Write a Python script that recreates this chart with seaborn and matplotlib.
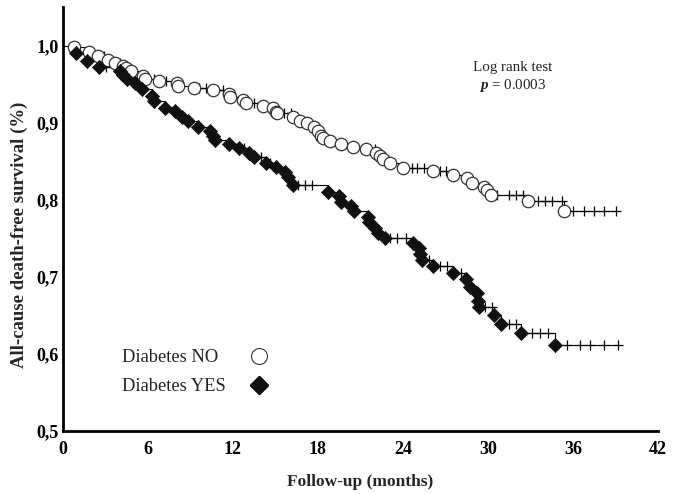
import numpy as np
import pandas as pd
import matplotlib
matplotlib.use("Agg")
import matplotlib.pyplot as plt
from matplotlib.lines import Line2D
from matplotlib.ticker import FuncFormatter
import seaborn as sns

# ---- data ----
no_times = [0.78, 1.84, 2.5, 3.2, 3.7, 4.2, 4.45, 4.8, 5.65, 5.8, 6.8, 8.05, 8.1, 9.25,
            10.6, 11.75, 11.8, 12.7, 12.95, 14.1, 14.85, 15.0, 15.1, 16.25, 16.75, 17.2,
            17.7, 18.0, 18.2, 18.35, 18.85, 19.6, 20.5, 21.4, 22.1, 22.35, 22.6, 23.05,
            24.0, 26.15, 27.55, 28.5, 28.9, 29.7, 29.95, 30.2, 32.85, 35.35]
no_surv = [0.999, 0.992, 0.987, 0.982, 0.978, 0.974, 0.971, 0.967, 0.961, 0.957, 0.955,
           0.952, 0.948, 0.946, 0.943, 0.938, 0.934, 0.930, 0.926, 0.922, 0.919, 0.914,
           0.913, 0.908, 0.903, 0.900, 0.895, 0.890, 0.883, 0.880, 0.877, 0.873, 0.869,
           0.866, 0.861, 0.857, 0.853, 0.848, 0.841, 0.838, 0.832, 0.829, 0.822, 0.817,
           0.813, 0.806, 0.799, 0.786]
no_censor = [2.9, 3.3, 4.0, 6.4, 7.3, 9.6, 10.1, 10.9, 11.3, 13.5, 15.6, 16.1, 19.9, 22.0,
             24.6, 25.0, 25.5, 26.6, 27.0, 30.6, 31.5, 32.0, 32.5, 33.5, 34.0, 34.5,
             35.2, 36.0, 36.8, 37.5, 38.2, 39.0]

yes_times = [0.9, 1.7, 2.55, 4.0, 4.25, 4.5, 5.1, 5.6, 6.3, 6.45, 7.2, 7.9, 8.4, 8.85,
             9.55, 10.4, 10.6, 10.75, 11.75, 12.45, 13.1, 13.45, 14.35, 15.05, 15.7, 15.9,
             16.25, 18.7, 19.5, 19.6, 20.3, 20.55, 21.55, 21.6, 22.0, 22.2, 22.7, 24.7,
             25.1, 25.2, 25.35, 26.1, 27.55, 28.45, 28.7, 29.25, 29.3, 29.4, 30.45, 30.95,
             32.35, 34.7]
yes_surv = [0.991, 0.980, 0.973, 0.968, 0.962, 0.957, 0.952, 0.944, 0.935, 0.928, 0.919,
            0.916, 0.908, 0.902, 0.895, 0.890, 0.883, 0.878, 0.873, 0.867, 0.861, 0.856,
            0.848, 0.843, 0.836, 0.830, 0.820, 0.810, 0.805, 0.797, 0.792, 0.786, 0.778,
            0.771, 0.764, 0.757, 0.751, 0.744, 0.738, 0.730, 0.722, 0.714, 0.705, 0.697,
            0.687, 0.679, 0.669, 0.661, 0.651, 0.639, 0.627, 0.612]
yes_censor = [3.0, 3.6, 5.5, 12.8, 14.0, 14.6, 16.6, 17.1, 17.6, 23.1, 23.6, 24.2, 25.8,
              26.6, 27.1, 27.6, 28.1, 29.8, 30.3, 31.5, 32.0, 33.1, 33.7, 34.2, 35.6,
              36.5, 37.2, 38.2, 39.2]

groups = ["Diabetes NO", "Diabetes YES"]
x_ticks = [0, 6, 12, 18, 24, 30, 36, 42]
y_ticks = [0.5, 0.6, 0.7, 0.8, 0.9, 1.0]
p_text = "0.0003"

# ---- style ----
sns.set_theme(style="white")
plt.rcParams["font.family"] = ["Liberation Serif", "DejaVu Serif"]
plt.rcParams["mathtext.fontset"] = "custom"
plt.rcParams["mathtext.rm"] = "Liberation Serif"
plt.rcParams["mathtext.it"] = "Liberation Serif:italic"
plt.rcParams["mathtext.bf"] = "Liberation Serif:bold"
plt.rcParams["mathtext.bfit"] = "Liberation Serif:italic:bold"

fig = plt.figure(figsize=(6.81, 4.94), dpi=100)
ax = fig.add_axes([63 / 681, 1 - 431 / 494, (658 - 63) / 681, (431 - 7) / 494])


def step_frame(times, surv, censor):
    end = max(max(times), max(censor))
    t = [0.0] + list(times) + [end]
    s = [1.0] + list(surv) + [surv[-1]]
    return pd.DataFrame({"t": t, "s": s})


def surv_at(times, surv, c):
    idx = np.searchsorted(times, c, side="right") - 1
    s_arr = np.array(surv)
    return np.where(idx >= 0, s_arr[np.clip(idx, 0, None)], 1.0)


specs = [
    (no_times, no_surv, no_censor, dict(marker="o", facecolor="white", edgecolor="#333333", s=80, linewidth=0.9)),
    (yes_times, yes_surv, yes_censor, dict(marker="D", facecolor="#111111", edgecolor="#111111", s=52, linewidth=0.5)),
]

for times, surv, censor, mk in specs:
    df = step_frame(times, surv, censor)
    sns.lineplot(data=df, x="t", y="s", ax=ax, estimator=None, sort=False,
                 drawstyle="steps-post", color="black", linewidth=0.8)
    cdf = pd.DataFrame({"t": censor, "s": surv_at(times, surv, censor)})
    sns.scatterplot(data=cdf, x="t", y="s", ax=ax, marker="+", color="black",
                    s=45, linewidth=0.9, zorder=3)
    edf = pd.DataFrame({"t": times, "s": surv})
    sns.scatterplot(data=edf, x="t", y="s", ax=ax, marker=mk["marker"],
                    facecolor=mk["facecolor"], edgecolor=mk["edgecolor"],
                    s=mk["s"], linewidth=mk["linewidth"], zorder=4)

ax.set_xlim(0, 42)
ax.set_ylim(0.5, 1.0 + 39 / 770)
ax.set_xticks(x_ticks)
ax.set_yticks(y_ticks)
ax.yaxis.set_major_formatter(FuncFormatter(lambda v, _: f"{v:.1f}".replace(".", ",")))
ax.xaxis.set_major_formatter(FuncFormatter(lambda v, _: f"{int(round(v))}"))

for side in ["top", "right"]:
    ax.spines[side].set_visible(False)
for side in ["left", "bottom"]:
    ax.spines[side].set_linewidth(2.0)
    ax.spines[side].set_color("black")

ax.tick_params(axis="both", direction="in", length=4, width=1.5, colors="black",
               labelsize=13)
ax.tick_params(axis="x", pad=7)
ax.tick_params(axis="y", pad=3)
for lab in ax.get_xticklabels() + ax.get_yticklabels():
    lab.set_fontweight("bold")

ax.set_xlabel("Follow-up (months)", fontsize=12.5, fontweight="bold", labelpad=12)
ax.set_ylabel("All-cause death-free survival (%)", fontsize=13.5, fontweight="bold")
ax.yaxis.set_label_coords(-0.058, 0.462)

ax.text(0.755, 0.858, "Log rank test", transform=ax.transAxes, ha="center", va="center",
        fontsize=10.8, color="#222222")
ax.text(0.755, 0.815, r"$\mathbfit{p}$ = " + p_text, transform=ax.transAxes, ha="center",
        va="center", fontsize=10.8, color="#222222")

# legend: labels as text, symbols as legend keys
label_y = [0.1745, 0.1038]
for lab, yy in zip(groups, label_y):
    ax.text(0.099, yy, lab, transform=ax.transAxes, ha="left", va="center",
            fontsize=13.3, color="#222222")

handles = [
    Line2D([], [], linestyle="none", marker="o", markersize=11.5, markerfacecolor="white",
           markeredgecolor="#333333", markeredgewidth=0.8),
    Line2D([], [], linestyle="none", marker="D", markersize=9.5, markerfacecolor="#111111",
           markeredgecolor="#111111"),
]
for h, yy in zip(handles, label_y):
    leg = ax.legend([h], [""], loc="center", bbox_to_anchor=(0.3286, yy), frameon=False,
                    handlelength=1.0, handletextpad=0.0, borderaxespad=0, borderpad=0)
    ax.add_artist(leg)

fig.savefig("out.png", dpi=100)
